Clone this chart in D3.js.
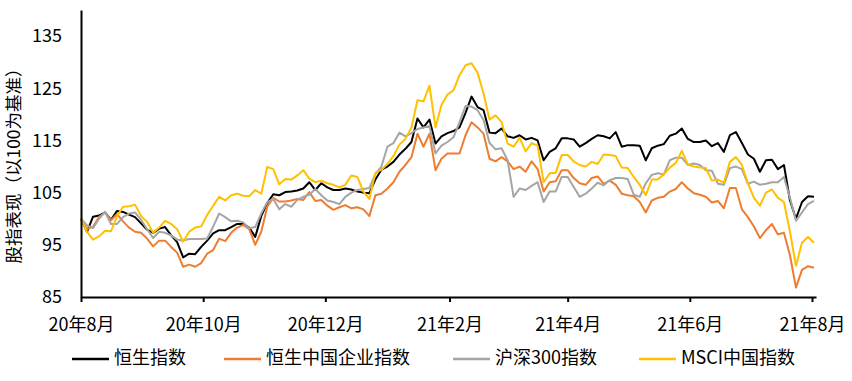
<!DOCTYPE html>
<html>
<head>
<meta charset="utf-8">
<script src="https://cdn.jsdelivr.net/npm/d3@7"></script>
<style>
  body { margin: 0; background: #fff; }
  text { font-family: "Noto Sans CJK SC", "Noto Sans", sans-serif; fill: #000; }
</style>
</head>
<body>
<div id="vis"></div>
<script>
// series names + colours
const seriesNames = ["恒生指数", "恒生中国企业指数", "沪深300指数", "MSCI中国指数"];
const seriesColors = ["#000000", "#ED7D31", "#A5A5A5", "#FFC000"];

// sampled every 3 days from 2020-08-01
const startDate = new Date(2020, 7, 1);
const endDate = new Date(2021, 7, 3);

const hsi = [
  100, 97.5, 100.4, 100.6, 101.2, 99.8, 101.5, 101.3, 100.8, 100.3,
  99.1, 97.9, 97.3, 98.1, 98.4, 96.8, 95.5, 92.6, 93.3, 93.2,
  94.6, 95.8, 97.2, 97.8, 97.8, 98.4, 99, 99, 98.3, 96.5,
  100.5, 103, 104.7, 104.5, 105.1, 105.2, 105.4, 105.8, 107, 105.5,
  106.8, 106, 105.5, 105.5, 105.8, 105.6, 105.2, 105, 104.9, 107.5,
  109.4, 110, 110.9, 112.3, 113.4, 114.7, 119.2, 117.5, 119, 114.4,
  115.8, 116.4, 116.8, 117.5, 120.3, 123.4, 121.4, 120.8, 116.5, 116.4,
  117.3, 115.8, 115.5, 116, 115.2, 115.5, 115, 111.2, 112.8, 113.5,
  115.4, 115.4, 115.2, 113.8, 114.5, 115.3, 116, 115.8, 115.4, 116.6,
  113.8, 114.1, 114.1, 114, 111.2, 113.5, 114, 114.3, 115.9, 116.3,
  117.3, 115.3, 114.7, 114.7, 115, 113.9, 114.5, 112.8, 116, 116.6,
  114.5, 112.3, 111.5, 109, 111.2, 111.3, 109.5, 110.3, 103.5, 100,
  103.2, 104.3, 104.2
];

const hscei = [
  100, 98, 98.5, 100.3, 101.2, 99.7, 100.9, 99.5, 98.3, 97.5,
  97.3, 96.2, 94.7, 95.8, 95.8, 94.6, 93.5, 90.8, 91.2, 90.8,
  91.5, 93.3, 94, 96.2, 95.7, 97.3, 98.3, 98.8, 98, 95,
  97.5, 102.3, 104, 103.3, 103.3, 103.5, 103.8, 103.6, 105.1, 103.4,
  103.6, 102.5, 101.7, 102.2, 102.6, 102, 102.2, 101.8, 100.5, 104.5,
  104.8, 105.8, 107, 109, 110.3, 111.8, 116.3, 113.8, 116.3, 109.3,
  111.5, 112.5, 112.5, 112.5, 116, 118.5, 117.5, 116.3, 111.5, 111,
  111.8, 111, 109.5, 110, 109, 111, 109.5, 105.2, 107, 107.2,
  109.3, 109.3, 107.8, 106.8, 106.5, 107.8, 108.1, 106.7, 107.3, 106.5,
  104.8, 104.5, 104.3, 103.2, 101.2, 103.5, 104, 104.2, 105.2, 105.7,
  107, 105.8, 104.9, 104.6, 104.2, 103.1, 103.4, 102, 105.9, 105.9,
  101.8, 100.3, 98.5, 96.3, 97.8, 99, 97, 97.3, 93, 86.8,
  90.2, 90.9, 90.6
];

const csi300 = [
  100, 98.7, 98.2, 100, 101.3, 99, 99, 100.3, 101, 101.2,
  99.8, 98, 96.3, 97.5, 97.3, 96.8, 96, 95.8, 96.1, 96.1,
  96.1, 96.2, 98.5, 101, 100.3, 99.5, 99.6, 99.3, 98.2, 98.4,
  101, 103.2, 103.8, 101.8, 102.8, 102.3, 103.6, 104.2, 104.6, 105.7,
  104.5, 103.5, 103.2, 102.8, 104.2, 105, 105.5, 105.7, 105.9, 108.6,
  110, 113.8, 114.5, 116.5, 115.8, 116.4, 117.2, 117.5, 117.8, 112.5,
  114, 114.7, 115.6, 118.5, 121.6, 121.5, 120.8, 118.9, 114.5, 113.3,
  113.5, 111.2, 104.2, 105.8, 105.5, 106.3, 107, 103.2, 105.2, 105.2,
  108, 108, 106.1, 104.2, 104.8, 105.8, 106.9, 106.4, 107.4, 107.8,
  107.8, 107.6, 104.6, 104.2, 106.8, 108.4, 108.7, 108.5, 111.2, 111.7,
  111.7, 110.3, 110.6, 110.3, 109.3, 109.2, 106.7, 106.5, 109.7, 110,
  109.5, 106.7, 107.1, 106.5, 106.7, 107, 107, 108, 104, 99.6,
  101.2, 102.8, 103.4
];

const msci = [
  100, 97.5, 96, 96.6, 97.7, 97.6, 100.5, 102.3, 102.4, 102.7,
  100.5, 99.4, 97.3, 98.3, 99.6, 99, 98, 95.6, 97.5, 98.3,
  98.5, 100.7, 102.5, 104.2, 103.5, 104.5, 104.8, 104.4, 104.3, 105.5,
  104.8, 109.9, 109.5, 106.6, 107.6, 107.5, 108.3, 109.3, 107.7, 107,
  107.3, 106.8, 106.5, 106, 106.5, 108.3, 108, 105.2, 103.8, 108.8,
  109.4, 110.5, 112, 114.2, 115.3, 117.5, 122.7, 122.5, 125.5, 117.5,
  121.8, 123.8, 124.6, 127.5, 129.4, 129.8, 128, 124, 119, 119.8,
  118.5, 114.4, 113.8, 115.5, 112.9, 114.5, 114, 107, 108.7, 108.8,
  112.2, 112.2, 111, 110.3, 110, 110.9, 110.5, 112.3, 112.2, 112,
  109.8, 109.7, 108, 106.5, 104.5, 107.5, 107.5, 108.5, 109.8, 110.7,
  113, 110.4, 110, 109.8, 109.7, 107.3, 107.5, 106.9, 110.9, 111.8,
  110.3, 106.8, 104, 102.5, 105, 105.6, 104, 103.2, 97.5, 91,
  95.4, 96.5, 95.4
];

const yTicks = [85, 95, 105, 115, 125, 135];
const xTickDates = ["2020-08-01", "2020-10-01", "2020-12-01", "2021-02-01", "2021-04-01", "2021-06-01", "2021-08-01"];
const xTickLabels = ["20年8月", "20年10月", "20年12月", "21年2月", "21年4月", "21年6月", "21年8月"];
const yTitle = "股指表现（以100为基准）";

const WIDTH = 852;
const HEIGHT = 381;
const MARGIN = { LEFT: 81, RIGHT: 36, TOP: 10, BOTTOM: 84 };

// every 3rd calendar day, evenly spaced
const dates = d3.timeDay.range(startDate, endDate, 3);
const parse = d3.timeParse("%Y-%m-%d");
const allSeries = [hsi, hscei, csi300, msci];

const xScale = d3.scaleTime()
  .domain([startDate, endDate])
  .range([MARGIN.LEFT, WIDTH - MARGIN.RIGHT]);

const yScale = d3.scaleLinear()
  .domain([85, 140])
  .range([HEIGHT - MARGIN.BOTTOM, MARGIN.TOP]);

const svg = d3.select("#vis")
  .append("svg")
  .attr("width", WIDTH)
  .attr("height", HEIGHT);

// lines
const line = d3.line()
  .x((d, i) => xScale(dates[i]))
  .y((d) => yScale(d));

svg.append("g")
  .selectAll("path")
  .data(allSeries)
  .enter()
  .append("path")
  .attr("d", (d) => line(d.slice(0, dates.length)))
  .attr("fill", "none")
  .attr("stroke", (d, i) => seriesColors[i])
  .attr("stroke-width", 2)
  .attr("stroke-linejoin", "round");

// x axis
const xAxis = svg.append("g")
  .attr("transform", `translate(0, ${HEIGHT - MARGIN.BOTTOM})`)
  .call(d3.axisBottom(xScale)
    .tickValues(xTickDates.map(parse))
    .tickFormat((d, i) => xTickLabels[i])
    .tickSize(5)
    .tickSizeOuter(0)
    .tickPadding(16));
xAxis.select(".domain").attr("stroke", "#000").attr("stroke-width", 2);
xAxis.selectAll(".tick line").attr("stroke", "#000").attr("stroke-width", 2);
xAxis.selectAll("text").style("font-size", "18px").style("font-family", "'Noto Sans CJK SC', sans-serif");

// y axis
const yAxis = svg.append("g")
  .attr("transform", `translate(${MARGIN.LEFT}, 0)`)
  .call(d3.axisLeft(yScale)
    .tickValues(yTicks)
    .tickSize(0)
    .tickSizeOuter(0)
    .tickPadding(19));
yAxis.select(".domain").attr("stroke", "#000").attr("stroke-width", 2);
yAxis.selectAll("text").style("font-size", "18px").style("font-family", "'Noto Sans CJK SC', sans-serif");

// y title
svg.append("text")
  .attr("transform", `translate(15, ${(MARGIN.TOP + HEIGHT - MARGIN.BOTTOM) / 2 + 8}) rotate(-90)`)
  .attr("text-anchor", "middle")
  .attr("dominant-baseline", "middle")
  .style("font-size", "17.5px")
  .text(yTitle);

// legend
const legendX = [72, 224, 453, 639];
const legend = svg.append("g")
  .attr("transform", `translate(0, 359)`);

seriesNames.forEach((name, i) => {
  legend.append("line")
    .attr("x1", legendX[i])
    .attr("x2", legendX[i] + 37)
    .attr("y1", 0)
    .attr("y2", 0)
    .attr("stroke", seriesColors[i])
    .attr("stroke-width", 2.5);
  legend.append("text")
    .attr("x", legendX[i] + 42)
    .attr("y", 0)
    .attr("dominant-baseline", "middle")
    .style("font-size", "18px")
    .text(name);
});
</script>
</body>
</html>
